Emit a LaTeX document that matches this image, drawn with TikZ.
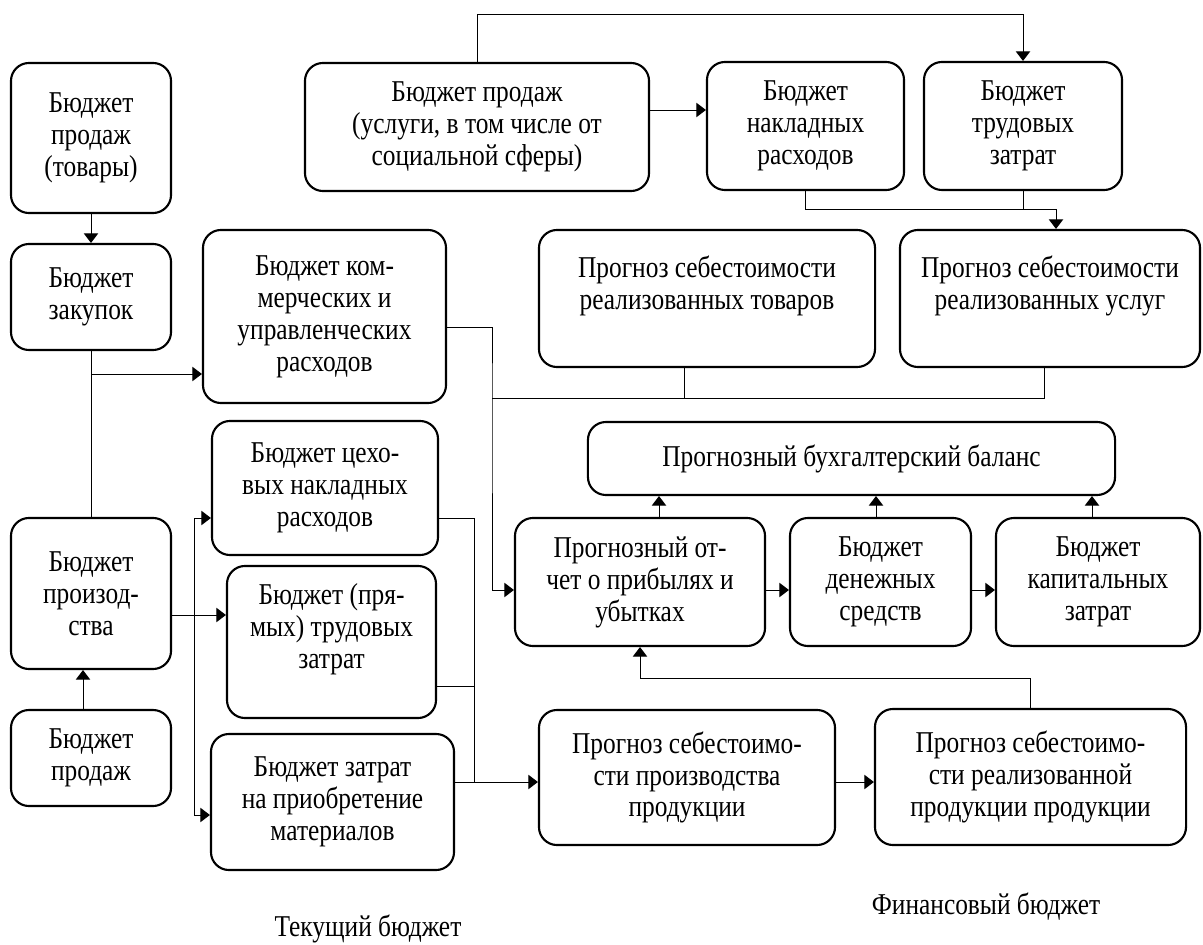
\documentclass[tikz,border=0pt]{standalone}
\usepackage{fontspec}
\setmainfont{Liberation Serif}[FakeStretch=0.84]
\usetikzlibrary{arrows.meta,positioning}

\begin{document}
\begin{tikzpicture}[
    x=0.025cm, y=-0.025cm,
    box/.style={rectangle, draw, rounded corners=0.45cm, align=center,
                font=\fontsize{21.5}{22.7}\selectfont, line width=1.5pt,
                inner sep=2pt},
    lbl/.style={font=\fontsize{21.5}{22.7}\selectfont, inner sep=0pt},
    arr/.style={-{Triangle[length=0.24cm, width=0.36cm]}, line width=0.7pt},
    ln/.style={line width=0.7pt}
  ]

  \useasboundingbox (0,0) rectangle (1203,945);

  % ---- Left column ----
  \node[box, minimum width=4cm, minimum height=3.75cm] (prodt) at (91,138)
    {Бюджет\\продаж\\(товары)};
  \node[box, minimum width=4cm, minimum height=2.65cm] (zak) at (91,297)
    {Бюджет\\закупок};
  \node[box, minimum width=4cm, minimum height=3.775cm] (proizv) at (91,593.5)
    {Бюджет\\произод-\\ства};
  \node[box, minimum width=4cm, minimum height=2.4cm] (sales) at (91,758)
    {Бюджет\\продаж};

  % ---- Top row ----
  \node[box, minimum width=8.6cm, minimum height=3.2cm] (produ) at (477,127)
    {Бюджет продаж\\(услуги, в том числе от\\социальной сферы)};
  \node[box, minimum width=4.925cm, minimum height=3.2cm] (nakl) at (805.5,126)
    {Бюджет\\накладных\\расходов};
  \node[box, minimum width=4.95cm, minimum height=3.2cm] (trud) at (1023,126)
    {Бюджет\\трудовых\\затрат};

  % ---- Current budget ----
  \node[box, minimum width=6.075cm, minimum height=4.325cm] (komm) at (324.5,316.5)
    {Бюджет ком-\\мерческих и\\управленческих\\расходов};
  \node[box, minimum width=5.65cm, minimum height=3.35cm] (cekh) at (325,488)
    {Бюджет цехо-\\вых накладных\\расходов};
  \node[box, minimum width=5.225cm, minimum height=3.8cm] (pryam) at (331.5,642)
    {Бюджет (пря-\\мых) трудовых\\затрат\\~};
  \node[box, minimum width=6.075cm, minimum height=3.4cm] (mater) at (332.5,802)
    {Бюджет затрат\\на приобретение\\материалов};

  % ---- Cost forecasts ----
  \node[box, minimum width=8.4cm, minimum height=3.425cm] (sebtov) at (707,298.5)
    {Прогноз себестоимости\\реализованных товаров\\~};
  \node[box, minimum width=7.5cm, minimum height=3.425cm] (sebusl) at (1050,298.5)
    {Прогноз себестоимости\\реализованных услуг\\~};
  \node[box, minimum width=7.4cm, minimum height=3.375cm] (sebpr) at (687,777.5)
    {Прогноз себестоимо-\\сти производства\\продукции};
  \node[box, minimum width=7.775cm, minimum height=3.4cm] (sebreal) at (1030.5,777)
    {Прогноз себестоимо-\\сти реализованной\\продукции продукции};

  % ---- Financial budget ----
  \node[box, minimum width=13.175cm, minimum height=1.825cm] (balans) at (851.5,458.5)
    {Прогнозный бухгалтерский баланс};
  \node[box, minimum width=6.25cm, minimum height=3.2cm] (otchet) at (640,582)
    {Прогнозный от-\\чет о прибылях и\\убытках};
  \node[box, minimum width=4.525cm, minimum height=3.2cm] (money) at (880.5,582)
    {Бюджет\\денежных\\средств};
  \node[box, minimum width=5.1cm, minimum height=3.2cm] (capital) at (1098,582)
    {Бюджет\\капитальных\\затрат};

  \node[lbl] (tek) at (368,929) {Текущий бюджет};
  \node[lbl] (fin) at (986,907) {Финансовый бюджет};

  % ---- Junctions ----
  \coordinate (j1) at (91,374);
  \coordinate (j2) at (1056,209);
  \coordinate (j3) at (492,398);
  \coordinate (j4) at (194,615);
  \coordinate (j5) at (474,782);

  % ---- Left column links ----
  \draw[arr] (prodt) -- (zak);
  \draw[ln] (zak) -- (proizv);
  \draw[arr] (j1) -- (j1 -| komm.west);
  \draw[arr] (sales.north -| 83,0) -- (proizv.south -| 83,0);

  % ---- Top links ----
  \draw[arr] (produ.north) |- (trud.north |- 0,14) -- (trud.north);
  \draw[arr] (produ.east |- 0,110) -- (nakl.west |- 0,110);
  \draw[arr] (nakl.south) |- (j2) -- (j2 |- sebusl.north);
  \draw[ln] (trud.south) -- (trud.south |- j2);

  % ---- Bus to the profit forecast ----
  \draw[arr] (komm.east |- 0,327) -| (j3) |- (otchet.west |- 0,590);
  \draw[ln] (j3) -| (sebusl.south -| 1044,0);
  \draw[ln] (sebtov.south -| 684,0) -- (684,398);

  % ---- Production links ----
  \draw[arr] (proizv.east |- j4) -- (pryam.west |- j4);
  \draw[arr] (j4) |- (cekh.west |- 0,518);
  \draw[arr] (j4) |- (mater.west |- 0,815);
  \draw[ln] (cekh.east |- 0,518) -| (j5);
  \draw[ln] (pryam.east |- 0,686) -- (j5 |- 0,686);
  \draw[arr] (mater.east |- j5) -- (sebpr.west |- j5);
  \draw[arr] (sebpr.east |- j5) -- (sebreal.west |- j5);

  % ---- Financial links ----
  \draw[arr] (otchet.east |- 0,590) -- (money.west |- 0,590);
  \draw[arr] (money.east |- 0,590) -- (capital.west |- 0,590);
  \draw[arr] (otchet.north -| 659,0) -- (balans.south -| 659,0);
  \draw[arr] (money.north -| 876,0) -- (balans.south -| 876,0);
  \draw[arr] (capital.north -| 1092,0) -- (balans.south -| 1092,0);
  \draw[arr] (sebreal.north) |- (otchet.south |- 0,678) -- (otchet.south);

\end{tikzpicture}
\end{document}
